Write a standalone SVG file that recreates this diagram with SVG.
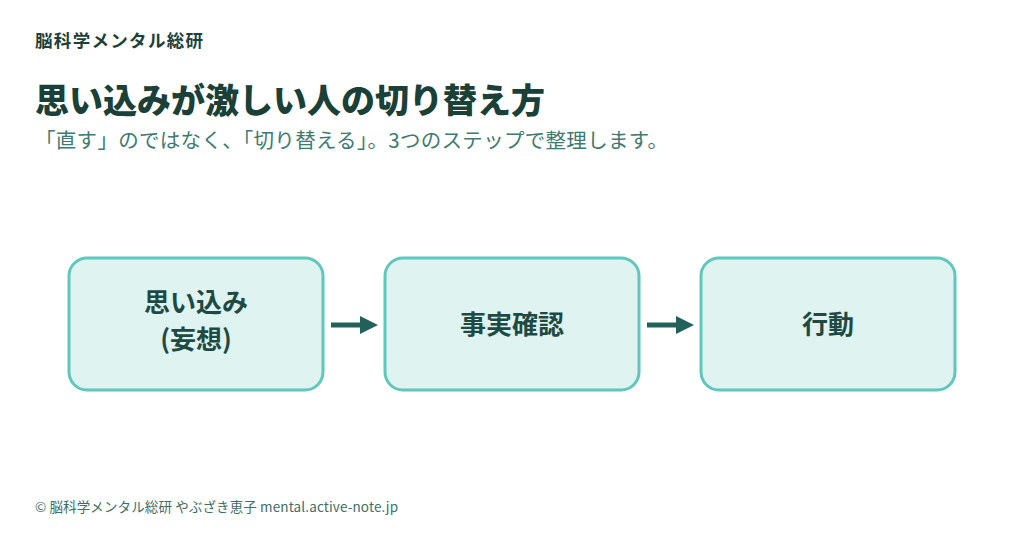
<svg xmlns="http://www.w3.org/2000/svg" width="1024" height="536" viewBox="0 0 1024 536">
<style>
text{font-family:"Noto Sans CJK JP","Noto Sans",sans-serif}
.box{fill:#dff3f1;stroke:#5fc8bb;stroke-width:3}
.lbl{font-size:26px;font-weight:700;fill:#1e4a44;text-anchor:middle}
.arr{stroke:#22605a;stroke-width:5}
</style>
<rect width="1024" height="536" fill="#fff"/>
<text x="35" y="47" font-size="17.5" font-weight="700" fill="#1e3f3a" textLength="168">脳科学メンタル総研</text>
<text x="35" y="113" font-size="34" font-weight="900" fill="#1a4038" textLength="510">思い込みが激しい人の切り替え方</text>
<text x="35" y="148" font-size="20.5" fill="#3e7a70" textLength="633">「直す」のではなく、「切り替える」。3つのステップで整理します。</text>
<g id="n1"><rect class="box" x="69" y="258" width="254" height="132" rx="18"/><text class="lbl" x="196" y="312">思い込み</text><text class="lbl" x="196" y="349">(妄想)</text></g>
<g id="n2"><rect class="box" x="385" y="258" width="254" height="132" rx="18"/><text class="lbl" x="512" y="334">事実確認</text></g>
<g id="n3"><rect class="box" x="701" y="258" width="254" height="132" rx="18"/><text class="lbl" x="828" y="334">行動</text></g>
<g id="connectors">
<line class="arr" x1="331" y1="325" x2="362" y2="325"/><path d="M360,316L378,325L360,334z" fill="#22605a"/>
<line class="arr" x1="647" y1="325" x2="678" y2="325"/><path d="M676,316L694,325L676,334z" fill="#22605a"/>
</g>
<text x="35" y="512" font-size="13.5" fill="#3e6e66" textLength="363">© 脳科学メンタル総研 やぶざき恵子 mental.active-note.jp</text>
</svg>
